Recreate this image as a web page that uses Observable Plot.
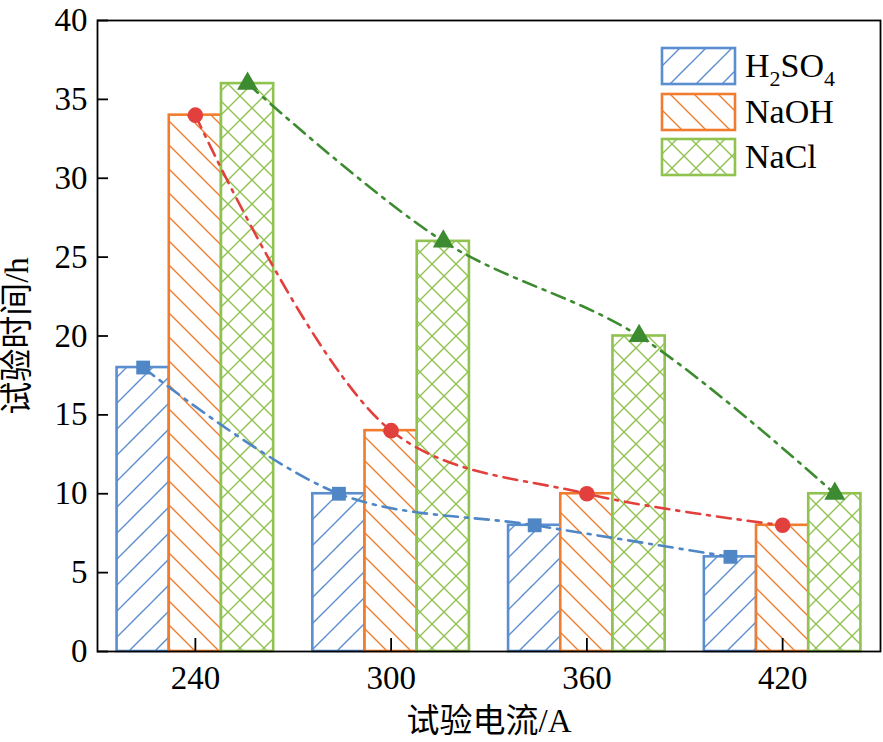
<!DOCTYPE html>
<html>
<head>
<meta charset="utf-8">
<script src="https://cdn.jsdelivr.net/npm/d3@7"></script>
<script src="https://cdn.jsdelivr.net/npm/@observablehq/plot@0.6"></script>
<style>
  html, body { margin: 0; padding: 0; background: white; }
</style>
</head>
<body>
<div id="chart"></div>
<script>
const categories = [240, 300, 360, 420];
const seriesNames = ["H2SO4", "NaOH", "NaCl"];
const h2so4 = [18, 10, 8, 6];
const naoh = [34, 14, 10, 8];
const nacl = [36, 26, 20, 10];
const yTicks = [0, 5, 10, 15, 20, 25, 30, 35, 40];

const barColors = {H2SO4: "#5b8ecf", NaOH: "#f07d2f", NaCl: "#8fc24f"};
const lineColors = {H2SO4: "#4f86c6", NaOH: "#e2403c", NaCl: "#3d8b30"};
const symbols = {H2SO4: "square", NaOH: "circle", NaCl: "triangle"};
const patternIds = {H2SO4: "hatch-h2so4", NaOH: "hatch-naoh", NaCl: "hatch-nacl"};
const offsets = {H2SO4: -16, NaOH: 0, NaCl: 16};
const halfWidth = 8;

const valuesBySeries = {H2SO4: h2so4, NaOH: naoh, NaCl: nacl};
const rows = [];
for (const s of seriesNames) {
  categories.forEach((c, i) => {
    rows.push({cat: c, series: s, value: valuesBySeries[s][i], pos: c + offsets[s]});
  });
}

const marks = [];
for (const s of seriesNames) {
  marks.push(Plot.rectY(rows.filter(d => d.series === s), {
    x1: d => d.pos - halfWidth, x2: d => d.pos + halfWidth, y: "value",
    fill: `url(#${patternIds[s]})`, stroke: barColors[s], strokeWidth: 2.6
  }));
}
for (const s of seriesNames) {
  marks.push(Plot.line(rows.filter(d => d.series === s), {
    x: "pos", y: "value", stroke: lineColors[s], strokeWidth: 2.6,
    strokeDasharray: "14,7,3,7", curve: "catmull-rom"
  }));
}
for (const s of seriesNames) {
  marks.push(Plot.dot(rows.filter(d => d.series === s), {
    x: "pos", y: "value", symbol: symbols[s], fill: lineColors[s], stroke: "none", r: 7.8
  }));
}
marks.push(Plot.frame({stroke: "black", strokeWidth: 1.8}));
marks.push(Plot.axisX({ticks: categories, tickSize: -13, tickPadding: 27, tickFormat: d => String(d),
  label: "试验电流/A", labelAnchor: "center", labelOffset: 80, labelArrow: "none", strokeWidth: 1.8}));
marks.push(Plot.axisY({ticks: yTicks, tickSize: -11, tickPadding: 21,
  label: "试验时间/h", labelAnchor: "center", labelOffset: 93, labelArrow: "none", strokeWidth: 1.8}));

const svg = Plot.plot({
  width: 883, height: 742,
  marginLeft: 97, marginRight: 3, marginTop: 20, marginBottom: 91,
  style: {fontFamily: "'Liberation Serif', 'Noto Sans CJK SC', serif", fontSize: "33px", color: "black", background: "white", overflow: "visible"},
  x: {domain: [210, 450]},
  y: {domain: [0, 40]},
  marks
});

const sel = d3.select(svg);
const defs = sel.insert("defs", ":first-child");
function hatch(id, color, size, angles) {
  const p = defs.append("pattern").attr("id", id)
    .attr("patternUnits", "userSpaceOnUse").attr("width", size).attr("height", size);
  p.append("rect").attr("width", size).attr("height", size).attr("fill", "white");
  for (const a of angles) {
    if (a === "/") {
      p.append("path").attr("d", `M0,${size} L${size},0 M${-size/2},${size/2} L${size/2},${-size/2} M${size/2},${size*1.5} L${size*1.5},${size/2}`)
        .attr("stroke", color).attr("stroke-width", 1.4).attr("fill", "none");
    } else {
      p.append("path").attr("d", `M0,0 L${size},${size} M${-size/2},${size/2} L${size/2},${size*1.5} M${size/2},${-size/2} L${size*1.5},${size/2}`)
        .attr("stroke", color).attr("stroke-width", 1.4).attr("fill", "none");
    }
  }
}
hatch("hatch-h2so4", barColors.H2SO4, 26, ["/"]);
hatch("hatch-naoh", barColors.NaOH, 24, ["\\"]);
hatch("hatch-nacl", barColors.NaCl, 24, ["/", "\\"]);

// Legend
const legendItems = [
  {s: "H2SO4", y: 48},
  {s: "NaOH", y: 94},
  {s: "NaCl", y: 139}
];
const lg = sel.append("g").attr("class", "legend").attr("text-anchor", "start");
for (const it of legendItems) {
  lg.append("rect").attr("x", 662).attr("y", it.y).attr("width", 73).attr("height", 36)
    .attr("fill", `url(#${patternIds[it.s]})`).attr("stroke", barColors[it.s]).attr("stroke-width", 2.6);
  const t = lg.append("text").attr("x", 745).attr("y", it.y + 29)
    .style("text-anchor", "start")
    .style("font-family", "'Liberation Serif', serif").style("font-size", "34px").attr("fill", "black");
  if (it.s === "H2SO4") {
    t.append("tspan").text("H");
    t.append("tspan").style("font-size", "22px").attr("dy", 9).text("2");
    t.append("tspan").attr("dy", -9).text("SO");
    t.append("tspan").style("font-size", "22px").attr("dy", 9).text("4");
  } else {
    t.text(it.s);
  }
}

document.getElementById("chart").appendChild(svg);
</script>
</body>
</html>
